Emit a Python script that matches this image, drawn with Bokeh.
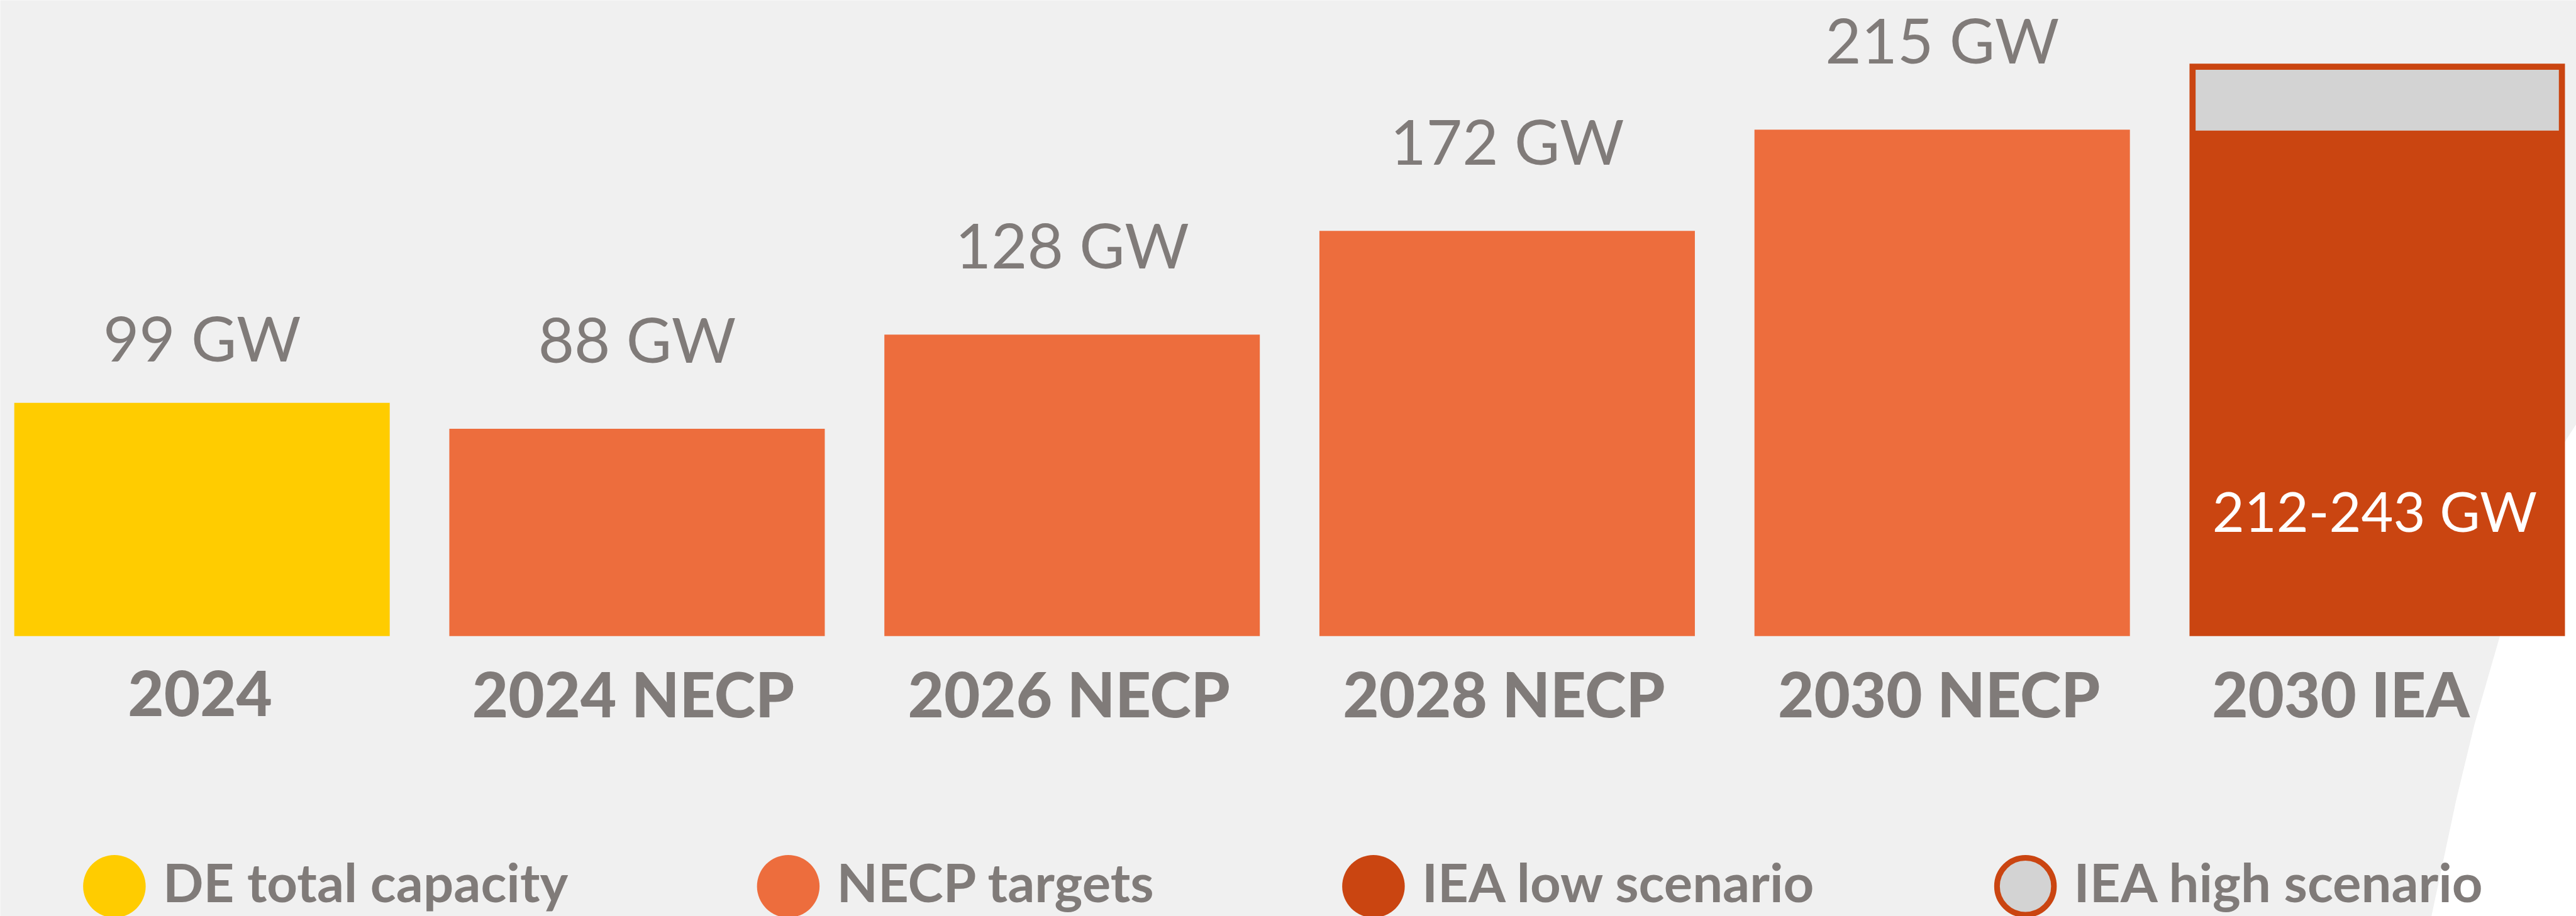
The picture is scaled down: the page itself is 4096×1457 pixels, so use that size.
from bokeh.plotting import figure
from bokeh.models import Range1d
from bokeh.core.properties import value
from bokeh.embed import file_html
from bokeh.resources import INLINE

# ---------------- data ----------------
categories = ["2024", "2024 NECP", "2026 NECP", "2028 NECP", "2030 NECP", "2030 IEA"]
capacity_gw = [99, 88, 128, 172, 215]          # first five bars
value_labels = ["99 GW", "88 GW", "128 GW", "172 GW", "215 GW"]
series_of_bar = ["DE total capacity", "NECP targets", "NECP targets", "NECP targets", "NECP targets"]
iea_low_gw = 212
iea_high_gw = 243
iea_label = "212-243 GW"
legend_labels = ["DE total capacity", "NECP targets", "IEA low scenario", "IEA high scenario"]

# ---------------- styles ----------------
BG = "#f0f0f0"
YELLOW = "#ffcc00"
ORANGE = "#ed6d3d"
RED = "#ca4511"
GREY = "#d3d3d3"
TEXT = "#807b79"
FONT = "Lato"
series_color = {"DE total capacity": YELLOW, "NECP targets": ORANGE}

# ---------------- geometry (pixels) ----------------
W, H = 4096, 1457
PITCH = 691.75            # px between bar centres
PX_PER_GW = 3.747
BASE_PX = 1011.3          # baseline, px from top
FIRST_CENTER_PX = 320.7
BAR_W = 597.0 / PITCH
x_start = -FIRST_CENTER_PX / PITCH
x_end = x_start + W / PITCH
y_top = BASE_PX / PX_PER_GW
y_bot = (BASE_PX - H) / PX_PER_GW
SHIFT = 0.42              # empirical baseline correction (em)


def px_x(px):
    return x_start + px / PITCH


def px_y(px):
    return y_top - px / PX_PER_GW


p = figure(width=W, height=H, output_backend="svg", toolbar_location=None,
           x_range=Range1d(x_start, x_end), y_range=Range1d(y_bot, y_top),
           min_border=0, background_fill_color=BG, border_fill_color=BG,
           outline_line_color=None)
p.axis.visible = False
p.grid.visible = False

# white decorative wedge at bottom right
wx = [4110, 4078, 4028, 3974, 3934, 3905, 3865, 4110]
wy = [652, 702, 853, 1013, 1152, 1272, 1460, 1460]
p.patch([px_x(v) for v in wx], [px_y(v) for v in wy], fill_color="white", line_color=None)

# bars
n = len(capacity_gw)
xs = list(range(n))
p.vbar(x=xs, top=capacity_gw, bottom=0, width=BAR_W,
       fill_color=[series_color[s] for s in series_of_bar], line_color=None)

# IEA bar: low scenario with grey high-scenario band
ix = len(categories) - 1
p.vbar(x=[ix], top=[iea_high_gw], bottom=0, width=BAR_W, fill_color=RED, line_color=None)
b = 9.7
p.quad(left=[ix - BAR_W / 2 + b / PITCH], right=[ix + BAR_W / 2 - b / PITCH],
       bottom=[iea_low_gw + b / PX_PER_GW], top=[iea_high_gw - b / PX_PER_GW],
       fill_color=GREY, line_color=None)

# value labels
VS = 99
gaps = [63, 102, 102, 102, 102]
p.text(x=xs, y=[v + (g + SHIFT * VS) / PX_PER_GW for v, g in zip(capacity_gw, gaps)],
       text=value_labels, text_font=value(FONT), text_font_size=f"{VS}px", text_color=TEXT,
       text_align="center", text_baseline="alphabetic")

RS = 88
p.text(x=[ix - 4 / PITCH], y=[px_y(848.2 - SHIFT * RS)], text=[iea_label],
       text_font=value(FONT), text_font_size=f"{RS}px", text_color="white",
       text_align="center", text_baseline="alphabetic")

# category labels
CS = 99
dx = [-3, -6, -5, -5, -5, -58]
p.text(x=[i + d / PITCH for i, d in zip(range(len(categories)), dx)],
       y=[px_y(1143.7 - SHIFT * CS)] * len(categories), text=categories,
       text_font=value("Lato Black"), text_font_style="bold", text_font_size=f"{CS}px",
       text_color=TEXT, text_align="center", text_baseline="alphabetic")

# legend
leg_cx = [181.4, 1252.9, 2183.4, 3220.1]
leg_cy = 1409.2
fills = [YELLOW, ORANGE, RED, GREY]
p.scatter(x=[px_x(c) for c in leg_cx[:3]], y=[px_y(leg_cy)] * 3, size=99.5,
          marker="circle", fill_color=fills[:3], line_color=None)
p.scatter(x=[px_x(leg_cx[3])], y=[px_y(leg_cy)], size=90.5, marker="circle",
          fill_color=GREY, line_color=RED, line_width=9)
LS = 85
p.text(x=[px_x(c + 77) for c in leg_cx], y=[px_y(1437 - SHIFT * LS)] * 4, text=legend_labels,
       text_font=value(FONT), text_font_style="bold", text_font_size=f"{LS}px",
       text_color=TEXT, text_align="left", text_baseline="alphabetic")

open("out.html", "w").write(file_html(p, INLINE))
